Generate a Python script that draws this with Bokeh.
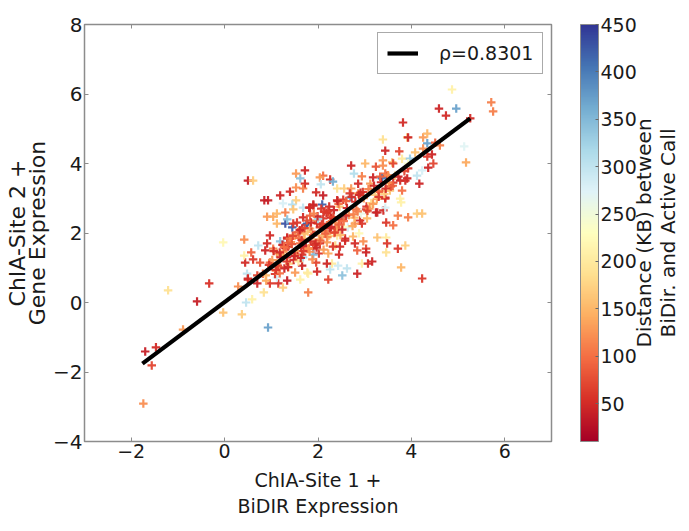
import numpy as np
from bokeh.plotting import figure
from bokeh.layouts import row
from bokeh.models import (ColumnDataSource, LinearColorMapper, ColorBar, FixedTicker,
                          LinearAxis, Legend, LegendItem)
from bokeh.embed import file_html
from bokeh.resources import INLINE

# x, y, distance (KB)
x_vals = [
-1.74,-1.70,-1.47,-1.56,-1.21,-0.89,-0.59,-0.33,-0.03,0.29,0.37,0.59,0.46,0.84,0.93,1.79,-0.03,0.42,0.97,0.57,
0.44,0.42,0.87,0.61,0.76,0.48,0.50,0.70,0.97,1.15,1.34,1.25,1.62,1.79,1.98,2.22,0.91,1.19,1.34,
0.50,0.61,1.72,1.53,1.62,1.72,1.53,1.68,1.19,1.40,0.85,0.93,1.53,1.25,1.45,1.30,1.47,1.68,1.83,1.90,0.91,1.04,1.12,
1.12,1.30,1.34,1.45,1.55,1.68,1.75,1.83,0.72,
2.71,3.01,3.24,2.77,2.94,2.11,2.04,2.26,2.32,2.86,3.18,3.37,3.48,2.06,2.41,2.56,2.69,2.71,1.96,2.11,2.86,3.12,3.44,3.29,3.44,
2.41,2.54,2.09,1.90,1.81,2.24,3.03,3.24,3.40,3.46,2.90,3.05,2.94,2.79,2.54,2.43,2.64,2.88,3.27,3.46,3.48,2.75,2.58,2.97,2.79,3.03,
1.77,1.47,2.11,1.94,2.26,2.04,1.83,1.66,2.19,2.37,1.90,1.72,2.09,2.26,2.41,2.58,2.19,2.04,1.34,1.51,1.62,2.37,1.90,
1.77,2.52,2.62,2.43,2.26,2.30,2.19,1.96,1.66,1.51,1.36,2.84,2.94,3.07,3.16,2.45,2.22,2.02,1.90,1.68,1.36,2.32,2.47,2.84,3.03,3.46,
1.04,1.12,0.97,1.19,1.34,0.82,0.89,1.12,0.50,0.70,
4.87,5.71,5.75,4.59,4.96,4.74,5.26,3.82,3.91,3.93,4.25,4.34,4.34,3.39,4.61,4.51,4.25,4.08,3.44,3.74,4.44,4.34,4.47,4.36,5.13,5.17,4.23,4.12,4.17,3.80,
3.59,3.61,3.80,3.93,3.97,3.39,3.39,3.44,3.91,3.76,3.37,3.65,3.50,3.44,3.76,3.54,3.87,3.61,3.93,
4.12,4.23,3.93,3.78,3.27,3.44,4.23,3.78,3.71,3.87,3.61,3.71,
1.02,1.08,1.16,1.22,1.28,1.31,1.38,1.42,1.48,1.56,1.60,1.66,1.70,1.74,1.82,1.86,1.92,1.98,2.02,2.08,2.14,2.18,2.24,2.30,2.34,2.40,2.46,2.50,2.56,2.60,
2.66,2.72,2.78,2.82,2.88,2.92,2.98,3.04,3.08,3.14,3.20,3.26,3.30,3.35,3.42,3.50,3.56,0.88,0.95,1.10,1.18,1.26,1.44,1.58,1.64,1.78,1.88,2.00,2.12,2.22,
2.35,2.48,2.62,2.74,2.85,2.96,3.10,3.22,3.33,3.52,
1.05,1.14,1.24,1.33,1.40,1.49,1.57,1.63,1.71,1.79,1.85,1.93,1.99,2.05,2.13,2.20,2.28,2.36,2.44,2.52,
1.10,1.20,1.27,1.36,1.46,1.52,1.61,1.69,1.76,1.84,1.91,1.97,2.07,2.16,2.25,2.33,2.42,2.55,2.68,2.80,
1.00,1.18,1.35,1.50,1.65,1.80,1.95,2.10,2.28,2.45,2.60,2.76,2.91,3.06,3.18,3.30,3.45,3.60,3.72,3.85,
]
y_vals = [
-2.91,-1.41,-1.29,-1.81,0.35,-0.78,0.03,0.55,-0.29,0.46,-0.34,0.09,0.00,0.29,-0.72,0.29,1.73,1.81,1.93,1.44,
1.15,1.35,1.50,1.24,1.15,0.83,0.66,0.55,0.55,0.55,0.63,0.43,0.66,0.83,0.89,0.66,1.70,1.76,1.87,
3.51,3.51,3.80,3.71,3.57,3.42,3.31,3.28,3.08,3.19,2.94,2.94,2.94,2.85,2.82,2.59,2.68,2.73,2.73,2.79,2.47,2.47,2.56,
2.27,2.27,2.39,2.16,2.30,2.45,2.24,2.50,1.64,
3.94,4.00,3.91,3.71,3.63,3.65,3.60,3.54,3.48,3.42,3.60,3.60,3.65,3.40,3.28,3.28,3.02,3.28,3.17,3.08,3.14,3.42,3.22,3.22,2.99,
2.94,2.96,2.82,2.82,2.73,2.76,2.68,2.59,2.65,2.30,2.36,2.42,2.27,2.27,2.45,2.16,2.16,1.99,1.87,1.87,1.70,1.90,1.84,1.76,1.70,1.55,
2.27,2.27,2.42,2.36,2.50,2.16,2.13,2.13,2.22,2.30,1.93,1.84,1.93,2.01,1.93,1.78,1.73,1.70,1.84,1.93,1.70,1.64,1.55,
0.86,0.78,0.98,1.06,0.95,1.12,1.12,1.15,1.06,0.86,1.01,0.83,1.12,1.12,1.18,1.38,1.41,1.41,1.38,1.30,1.61,1.61,1.61,1.50,1.44,1.44,
1.55,1.41,1.15,1.21,1.30,0.83,0.63,0.72,0.69,0.78,
6.13,5.76,5.50,5.58,5.58,5.38,5.30,5.18,4.75,4.75,4.75,4.86,4.58,4.69,4.52,4.60,4.43,4.32,4.37,4.35,4.26,4.20,4.00,3.88,4.49,4.03,3.80,3.65,3.42,3.22,
4.03,4.00,4.14,3.86,4.14,4.09,3.94,3.71,3.57,3.51,3.57,3.65,3.31,3.02,2.99,3.22,3.51,3.45,4.00,
2.56,2.56,2.45,2.88,2.59,2.73,0.69,1.01,1.55,1.64,2.22,2.50,
1.22,0.82,1.02,1.38,0.98,1.56,1.12,1.74,1.22,1.48,1.86,1.38,1.98,1.62,1.46,2.04,1.72,2.28,1.82,2.26,2.06,2.58,1.92,2.34,2.66,2.12,2.76,2.38,2.18,2.92,
2.52,3.04,2.44,2.68,3.10,2.56,3.00,2.76,3.26,2.86,3.36,2.98,3.18,3.46,3.12,3.66,3.34,0.78,1.08,0.92,0.84,1.46,1.68,1.18,1.58,2.04,1.24,2.40,1.52,2.62,
2.00,1.94,2.72,2.20,2.62,3.18,2.70,3.10,3.62,3.44,
1.48,1.06,1.66,1.18,1.84,1.42,2.02,1.28,2.14,1.54,2.30,1.66,2.48,1.78,2.62,1.88,2.44,2.02,2.84,2.10,
0.94,1.30,1.60,1.02,1.92,1.36,2.08,1.48,2.36,1.76,2.56,1.58,2.70,1.98,2.14,2.46,2.92,2.34,3.14,2.90,
1.04,1.44,1.72,1.34,1.80,1.56,1.70,2.20,2.18,2.24,2.50,2.54,3.16,2.64,2.84,3.04,3.28,3.36,3.62,3.78,
]
d_vals = [
120,40,50,70,190,130,40,55,160,120,170,210,300,190,370,110,220,120,50,90,
50,210,45,60,80,300,50,45,60,55,40,170,210,210,50,70,50,340,50,
40,170,45,130,340,50,120,110,45,50,40,40,170,280,310,110,160,300,50,45,130,140,150,
150,430,340,420,60,50,420,90,300,
45,150,80,310,110,100,130,50,360,50,45,420,50,300,190,170,370,130,50,40,130,130,50,110,60,
50,60,420,45,50,50,60,40,50,60,50,150,60,120,400,60,280,220,160,200,60,150,50,120,50,70,
420,60,60,110,100,70,140,50,100,120,60,170,150,110,200,50,130,60,50,130,100,180,60,
200,340,300,290,300,200,45,70,45,130,170,45,210,50,45,50,140,60,350,320,45,60,50,90,45,190,
110,120,100,130,50,100,140,280,50,70,
210,110,110,45,370,50,50,50,160,45,130,150,370,190,110,90,120,160,45,70,45,60,70,45,270,140,280,300,45,100,
150,70,200,60,330,130,120,100,45,50,400,170,210,50,210,160,50,60,240,
170,160,110,210,45,280,60,150,60,170,100,110,
130,60,110,150,45,90,170,120,50,130,100,60,150,40,120,80,210,50,140,60,110,55,180,100,45,130,160,70,230,90,
120,50,150,100,45,260,130,60,110,180,50,140,90,45,170,120,70,150,60,110,100,130,80,200,45,160,120,320,130,60,
100,150,45,140,110,60,130,170,90,120,
50,70,45,60,110,50,90,45,70,120,50,60,45,90,60,120,50,70,100,45,
60,45,100,50,70,130,45,60,80,50,110,45,60,90,50,70,45,100,60,50,
70,50,90,45,60,120,50,70,45,90,60,110,50,70,130,60,50,90,45,70,
]
line_x = [-1.76, 5.26]
line_y = [-1.76, 5.30]
x_ticks = [-2, 0, 2, 4, 6]
y_ticks = [-4, -2, 0, 2, 4, 6, 8]
cb_ticks = [50, 100, 150, 200, 250, 300, 350, 400, 450]
stops = ["#a50026", "#d73027", "#f46d43", "#fdae61", "#fee090", "#ffffbf",
         "#e0f3f8", "#abd9e9", "#74add1", "#4575b4", "#313695"]

n = min(len(x_vals), len(y_vals), len(d_vals))
src = ColumnDataSource(dict(x=x_vals[:n], y=y_vals[:n], d=d_vals[:n]))


def hex2rgb(h):
    return [int(h[i:i + 2], 16) for i in (1, 3, 5)]


rgb = np.array([hex2rgb(s) for s in stops], float)
t = np.linspace(0, 1, 256)
pos = np.linspace(0, 1, len(stops))
palette = ["#%02x%02x%02x" % tuple(int(round(np.interp(v, pos, rgb[:, c]))) for c in range(3)) for v in t]
mapper = LinearColorMapper(palette=palette, low=10, high=450)

FONT = "DejaVu Sans"
INK = "#1a1a1a"
GREY = "#8c8c8c"

p = figure(frame_width=467, frame_height=417,
           x_range=(-3, 7), y_range=(-4, 8), output_backend="svg", toolbar_location=None,
           min_border_left=84, min_border_top=24, min_border_right=90, min_border_bottom=84,
           background_fill_color="white", border_fill_color="white")
p.grid.visible = False
p.outline_line_color = GREY
p.outline_line_width = 1.5

p.scatter("x", "y", source=src, marker="cross", size=8.5, line_width=2.2, alpha=0.95,
          line_color={"field": "d", "transform": mapper})
ln = p.line(line_x, line_y, line_color="black", line_width=4.2)

for ax, ticks in ((p.xaxis[0], x_ticks), (p.yaxis[0], y_ticks)):
    ax.ticker = FixedTicker(ticks=ticks)
    ax.axis_line_color = None
    ax.major_tick_in = 4
    ax.major_tick_out = 0
    ax.major_tick_line_color = GREY
    ax.minor_tick_line_color = None
    ax.major_label_text_font = FONT
    ax.major_label_text_color = INK
    ax.axis_label_text_font = FONT
    ax.axis_label_text_font_style = "normal"
    ax.axis_label_text_color = INK

p.xaxis[0].major_label_text_font_size = "19px"
p.yaxis[0].major_label_text_font_size = "20px"
p.xaxis[0].axis_label_text_font_size = "19px"
p.yaxis[0].axis_label_text_font_size = "22px"
p.xaxis[0].axis_label_text_line_height = 1.2
p.yaxis[0].axis_label_text_line_height = 0.8
p.xaxis[0].axis_label = "ChIA-Site 1 +\nBiDIR Expression"
p.yaxis[0].axis_label = "ChIA-Site 2 +\nGene Expression"
p.xaxis[0].major_label_standoff = 2
p.yaxis[0].major_label_standoff = 2
p.xaxis[0].axis_label_standoff = 8
p.yaxis[0].axis_label_standoff = 0

for side, ticks in (("above", x_ticks), ("right", y_ticks)):
    a = LinearAxis(ticker=FixedTicker(ticks=ticks), axis_line_color=None, major_tick_in=4, major_tick_out=0,
                   major_tick_line_color=GREY, minor_tick_line_color=None,
                   major_label_overrides={t_: "" for t_ in ticks}, major_label_text_font_size="10px",
                   major_label_standoff=0)
    p.add_layout(a, side)

legend = Legend(items=[LegendItem(label="ρ=0.8301", renderers=[ln])], location=(293, 367),
                padding=9, margin=0, spacing=0, glyph_width=31, glyph_height=20, label_standoff=21,
                label_text_font=FONT, label_text_font_size="19px", label_text_color=INK,
                border_line_color="#555555", border_line_width=1.5, background_fill_alpha=1)
p.add_layout(legend)

cb = ColorBar(color_mapper=mapper, ticker=FixedTicker(ticks=cb_ticks), location=(496, 0), width=18, height=417,
              padding=0, margin=0, major_label_text_font=FONT, major_label_text_font_size="19px",
              major_label_text_color=INK, major_tick_in=3, major_tick_line_color="#666666",
              minor_tick_line_color=None, bar_line_color=GREY, border_line_color=None,
              background_fill_color=None, label_standoff=2)
p.add_layout(cb)

# Narrow companion figure that only carries the colour bar's two-line title
q = figure(frame_width=2, frame_height=417, x_range=(0, 1), y_range=(0, 1), output_backend="svg",
           toolbar_location=None, min_border_left=0, min_border_top=24, min_border_right=8, min_border_bottom=84,
           background_fill_color=None, border_fill_color=None, outline_line_color=None,
           margin=(0, 0, 0, -13))
q.grid.visible = False
q.xaxis.visible = False
yq = q.yaxis[0]
yq.ticker = FixedTicker(ticks=[])
yq.axis_line_color = None
yq.major_tick_line_color = None
yq.minor_tick_line_color = None
yq.major_label_standoff = 0
yq.axis_label_standoff = 0
yq.axis_label = "Distance (KB) between\nBiDir. and Active Call"
yq.axis_label_text_font = FONT
yq.axis_label_text_font_size = "20px"
yq.axis_label_text_font_style = "normal"
yq.axis_label_text_color = INK
yq.axis_label_text_line_height = 1.0

layout = row(p, q, spacing=0)
open("out.html", "w").write(file_html(layout, INLINE))
print(len(x_vals), len(y_vals), len(d_vals))
